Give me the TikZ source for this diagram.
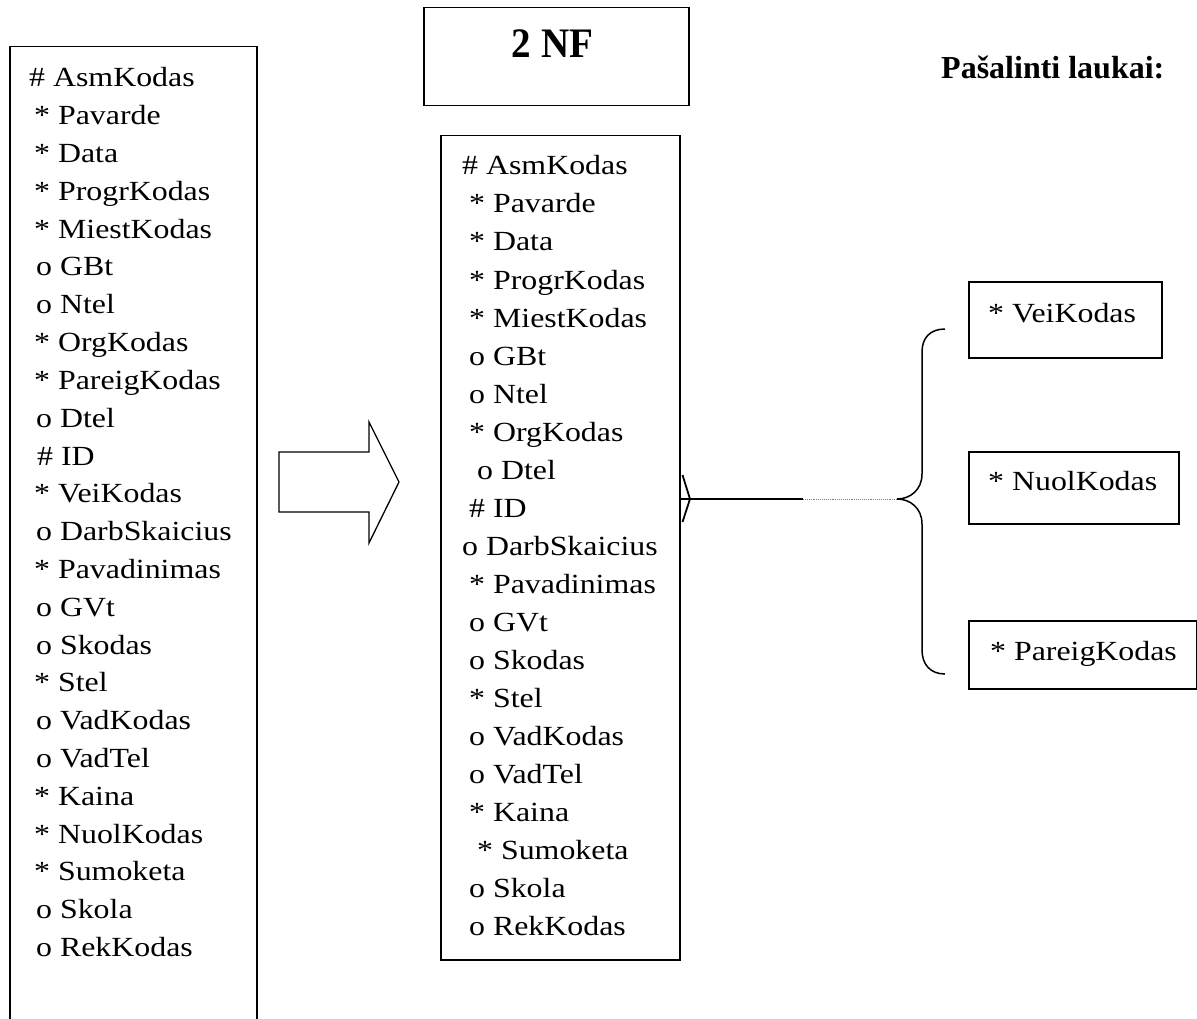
\documentclass[tikz,border=0pt]{standalone}
\usepackage{fontspec}
\setmainfont{Liberation Serif}
\newfontfamily\fieldfont[FakeStretch=1.15]{Liberation Serif}
\newfontfamily\titlefont[FakeStretch=0.93]{Liberation Serif}
\usetikzlibrary{calc}
\begin{document}
\begin{tikzpicture}[x=1pt,y=-1pt,
  box/.style={draw, line width=1.5pt, inner sep=0pt, anchor=north west},
  field/.style={inner sep=0pt, anchor=base west, font=\fieldfont\fontsize{27.7}{33}\selectfont},
  heading/.style={inner sep=0pt, font=\bfseries\fontsize{32}{38}\selectfont},
  conn/.style={line width=1.8pt},
  weak/.style={line width=0.9pt, gray, densely dotted},
  bracestyle/.style={line width=1.5pt},
  blockarrow/.style={line width=1.3pt, line join=miter}]
\useasboundingbox (0,0) rectangle (1197,1019);
\clip (0,0) rectangle (1197,1019);

% title
\node[box, minimum width=265pt, minimum height=98pt] (nf) at (423,7) {};
\node[inner sep=0pt, anchor=base, font=\titlefont\bfseries\fontsize{42}{48}\selectfont] (nftext) at (552.5,58) {2 NF};

% heading of the removed fields
\node[heading, anchor=base west] (removed) at (941,79) {Pašalinti laukai:};

% entity before normalisation (open at the bottom)
\node[box, minimum width=247pt, minimum height=1000pt] (leftbox) at (9,46) {};
\foreach \dx/\t [count=\i from 0] in {
  0/{\# AsmKodas}, 5/{* Pavarde}, 5/{* Data}, 5/{* ProgrKodas}, 5/{* MiestKodas},
  7/{o GBt}, 7/{o Ntel}, 5/{* OrgKodas}, 5/{* PareigKodas}, 7/{o Dtel},
  8/{\# ID}, 5/{* VeiKodas}, 7/{o DarbSkaicius}, 5/{* Pavadinimas}, 7/{o GVt},
  7/{o Skodas}, 5/{* Stel}, 7/{o VadKodas}, 7/{o VadTel}, 5/{* Kaina},
  5/{* NuolKodas}, 5/{* Sumoketa}, 7/{o Skola}, 7/{o RekKodas}}
  \node[field] (L\i) at ({29+\dx},{87+\i*37.8}) {\t};

% transition arrow
\draw[blockarrow] (279,452) -- (369,452) -- (369,422) -- (399,482) -- (369,543)
  -- (369,512) -- (279,512) -- cycle;

% entity in 2NF
\node[box, minimum width=239pt, minimum height=824pt] (mid) at (440,135) {};
\foreach \dx/\t [count=\i from 0] in {
  0/{\# AsmKodas}, 7/{* Pavarde}, 7/{* Data}, 7/{* ProgrKodas}, 7/{* MiestKodas},
  7/{o GBt}, 7/{o Ntel}, 7/{* OrgKodas}, 15/{o Dtel}, 7/{\# ID},
  0/{o DarbSkaicius}, 7/{* Pavadinimas}, 7/{o GVt}, 7/{o Skodas}, 7/{* Stel},
  7/{o VadKodas}, 7/{o VadTel}, 7/{* Kaina}, 15/{* Sumoketa}, 7/{o Skola},
  7/{o RekKodas}}
  \node[field] (M\i) at ({462+\dx},{175+\i*38}) {\t};

% removed fields
\node[box, minimum width=193pt, minimum height=76pt] (vei) at (968,281) {};
\node[field] (veitext) at (988,322) {* VeiKodas};
\node[box, minimum width=210pt, minimum height=72pt] (nuol) at (968,451) {};
\node[field] (nuoltext) at (988,490) {* NuolKodas};
\node[box, minimum width=228pt, minimum height=68pt] (pareig) at (968,620) {};
\node[field] (pareigtext) at (990,660) {* PareigKodas};

% relationship: crow's foot on the 2NF entity, brace over the removed fields
\coordinate (cf) at (690,499);
\coordinate (brk) at (803,499);
\coordinate (tip) at (897,499);
\draw[conn] ($(mid.east |- cf)+(2,-24)$) -- (cf) -- ($(mid.east |- cf)+(2,23)$);
\draw[conn] (mid.east |- cf) -- (brk);
\draw[weak] (brk) -- (tip);
\draw[bracestyle] (945,329) .. controls (930,329) and (922,338) .. (922,352)
  -- (922,474) .. controls (922,490) and (910,499) .. (tip)
  .. controls (910,499) and (922,508) .. (922,524)
  -- (922,650) .. controls (922,664) and (930,674) .. (945,674);
\end{tikzpicture}
\end{document}
